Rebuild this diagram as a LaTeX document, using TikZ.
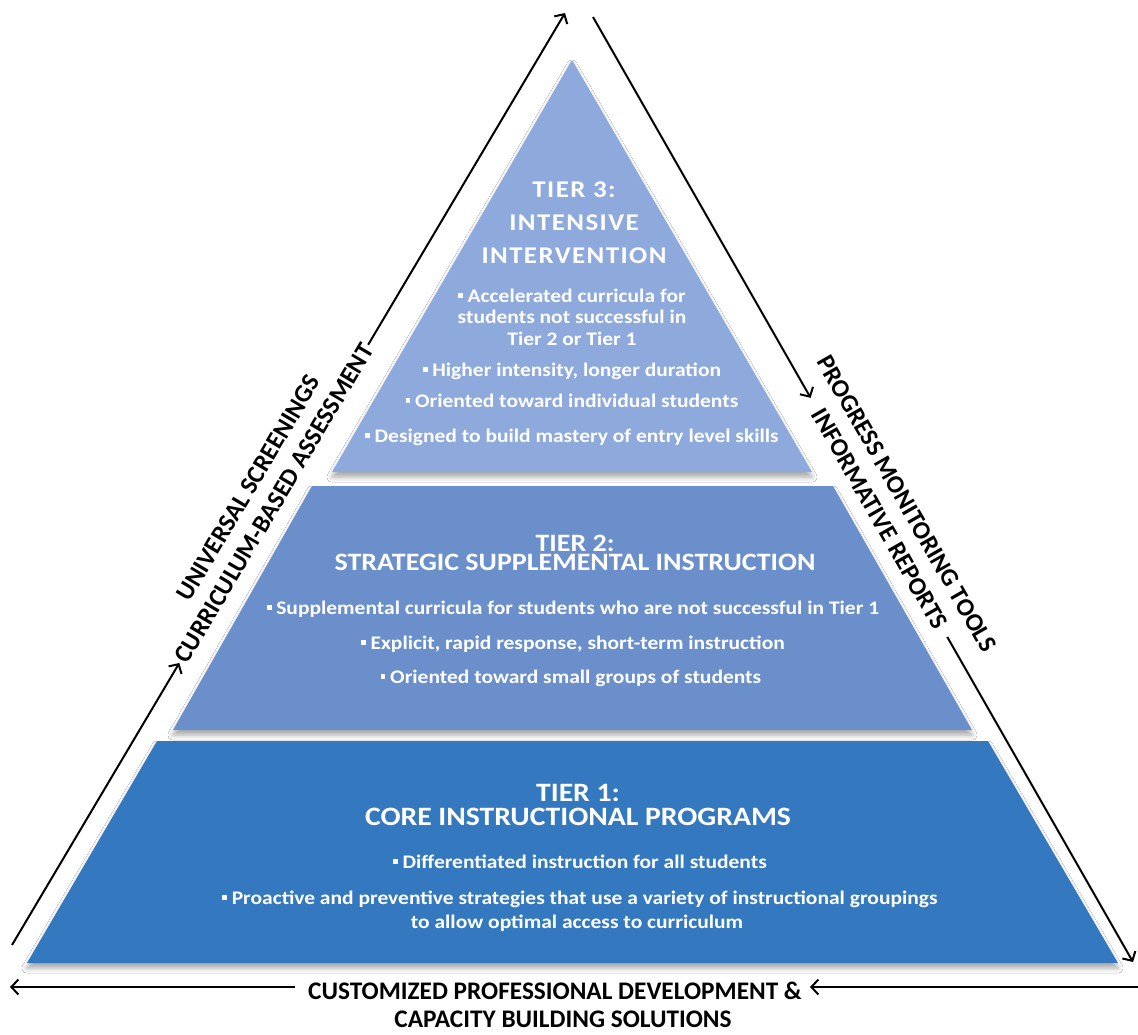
\documentclass[tikz,border=0pt]{standalone}
\usepackage{fontspec}
\setmainfont{Carlito}[FakeStretch=1.12]
\newfontfamily\labfont{Carlito}
\usetikzlibrary{arrows.meta,calc,shadows.blur}
\definecolor{tthree}{HTML}{8EA9DB}
\definecolor{ttwo}{HTML}{6A8FCB}
\definecolor{tone}{HTML}{3479BF}
\newcommand\sqb{\rule[0.22em]{0.24em}{0.24em}\hspace{0.25em}}
\begin{document}
\begin{tikzpicture}[x=1pt,y=-1pt,
  tiershadow/.style={blur shadow={shadow xshift=0pt,shadow yshift=-5pt,shadow blur radius=5pt,shadow opacity=35}},
  tiertitle/.style={text=white,font=\bfseries\fontsize{25}{25}\selectfont,anchor=base,inner sep=0pt},
  tieronetitle/.style={text=white,font=\bfseries\fontsize{26.5}{26.5}\selectfont,anchor=base,inner sep=0pt},
  tierthree/.style={text=white,font=\bfseries\fontsize{24}{24}\selectfont\addfontfeature{LetterSpace=6},anchor=base,inner sep=0pt},
  bul/.style={text=white,font=\bfseries\fontsize{19.2}{19.2}\selectfont,anchor=base,inner sep=0pt},
  lab/.style={text=black,font=\labfont\bfseries\fontsize{25.3}{25.3}\selectfont,inner sep=0pt},
  axis/.style={line width=2pt,-{Straight Barb[length=7pt,width=15pt,line width=2pt]}}
]
\useasboundingbox (0,0) rectangle (1138,1034);
\fill[white] (0,0) rectangle (1138,1034);

% tiers
\fill[tthree,tiershadow] (572,60) -- (812,472) -- (332,472) -- cycle;
\fill[ttwo,tiershadow] (312,486) -- (833,486) -- (972,730) -- (173,730) -- cycle;
\fill[tone,tiershadow] (157,741) -- (988,741) -- (1118,963) -- (27,963) -- cycle;

% tier 3 text
\node[tierthree] (t3a) at (574,197) {TIER 3:};
\node[tierthree] (t3b) at (574,230) {INTENSIVE};
\node[tierthree] (t3c) at (574,263) {INTERVENTION};
\node[bul] (t3d) at (572,302) {\sqb Accelerated curricula for};
\node[bul] (t3e) at (572,323) {students not successful in};
\node[bul] (t3f) at (572,345) {Tier 2 or Tier 1};
\node[bul] (t3g) at (572,376) {\sqb Higher intensity, longer duration};
\node[bul] (t3h) at (572,407) {\sqb Oriented toward individual students};
\node[bul] (t3i) at (572,442) {\sqb Designed to build mastery of entry level skills};

% tier 2 text
\node[tiertitle] (t2a) at (575,551) {TIER 2:};
\node[tiertitle] (t2b) at (575,570) {STRATEGIC SUPPLEMENTAL INSTRUCTION};
\node[bul] (t2c) at (573,614) {\sqb Supplemental curricula for students who are not successful in Tier 1};
\node[bul] (t2d) at (573,649) {\sqb Explicit, rapid response, short-term instruction};
\node[bul] (t2e) at (571,683) {\sqb Oriented toward small groups of students};

% tier 1 text
\node[tieronetitle] (t1a) at (578,801) {TIER 1:};
\node[tieronetitle] (t1b) at (578,825) {CORE INSTRUCTIONAL PROGRAMS};
\node[bul] (t1c) at (580,868) {\sqb Differentiated instruction for all students};
\node[bul] (t1d) at (580,904) {\sqb Proactive and preventive strategies that use a variety of instructional groupings};
\node[bul] (t1e) at (577,928) {to allow optimal access to curriculum};

% left side
\coordinate (L0) at (12,945);
\coordinate (L1) at (565,13);
\coordinate (La) at ($(L0)!0.3026!(L1)$);
\coordinate (Lb) at ($(L0)!0.644!(L1)$);
\coordinate (Lc) at ($(L0)!0.474!(L1)$);
\node[lab,rotate=59.32] (cba) at (Lc) {CURRICULUM-BASED ASSESSMENT};
\node[lab,rotate=59.32] (us) at ($(Lc)!30pt!90:(L1)$) {UNIVERSAL SCREENINGS};
\draw[axis] (L0) -- (La);
\draw[axis] (Lb) -- (L1);

% right side
\coordinate (R0) at (593,17);
\coordinate (R1) at (1133,962);
\coordinate (Ra) at ($(R0)!0.403!(R1)$);
\coordinate (Rb) at ($(R0)!0.656!(R1)$);
\coordinate (Rc) at ($(R0)!0.531!(R1)$);
\node[lab,rotate=-60.26] (ir) at (Rc) {INFORMATIVE REPORTS};
\node[lab,rotate=-60.26] (pmt) at ($(Rc)!31pt!90:(R1)$) {PROGRESS MONITORING TOOLS};
\draw[axis] (R0) -- (Ra);
\draw[axis] (Rb) -- (R1);

% bottom
\coordinate (B0) at (1138,987);
\coordinate (B1) at (810,987);
\coordinate (B2) at (295,987);
\coordinate (B3) at (10,987);
\draw[axis] (B0) -- (B1);
\draw[axis] (B2) -- (B3);
\node[lab,anchor=base] (cust) at (555,999) {CUSTOMIZED PROFESSIONAL DEVELOPMENT \&};
\node[lab,anchor=base] (cap) at (563,1027) {CAPACITY BUILDING SOLUTIONS};
\end{tikzpicture}
\end{document}
